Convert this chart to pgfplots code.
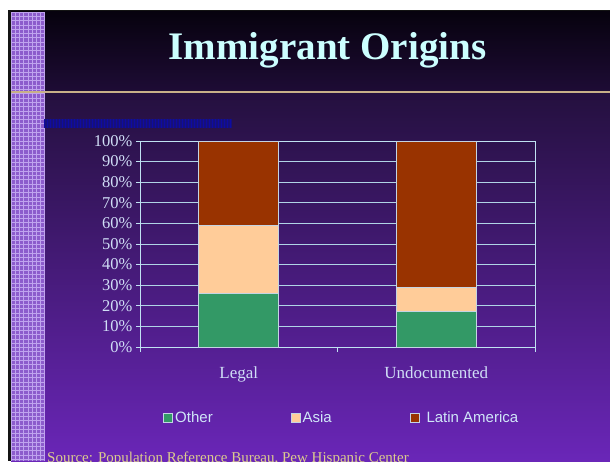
\documentclass[border=0pt]{standalone}
\usepackage{fontspec}
\setmainfont{Liberation Serif}
\newfontfamily\legendfont{Liberation Sans}
\usepackage{pgfplots}
\pgfplotsset{compat=1.18}
\definecolor{bgA}{HTML}{07020E}
\definecolor{bgB}{HTML}{1E0C36}
\definecolor{bgC}{HTML}{24103E}
\definecolor{bgD}{HTML}{6A26B8}
\definecolor{strip}{HTML}{8C5CCC}
\definecolor{stripline}{HTML}{BFA3EE}
\definecolor{rule}{HTML}{C8B088}
\definecolor{navyrect}{HTML}{16107A}
\definecolor{titlecol}{HTML}{CCFFFF}
\definecolor{tickcol}{HTML}{D0DEF6}
\definecolor{gridcol}{HTML}{B0D4E6}
\definecolor{axiscol}{HTML}{C0E2F2}
\definecolor{legtext}{HTML}{D0E6F8}
\definecolor{srccol}{HTML}{DCCB8E}
\definecolor{cOther}{HTML}{339966}
\definecolor{cAsia}{HTML}{FFCC99}
\definecolor{cLatin}{HTML}{993300}
\definecolor{edgecol}{HTML}{C4D4E4}

\pgfplotstableread{
x other asia latin
0 26 33 41
1 17 12 71
}\datatable

\begin{document}
\begin{tikzpicture}
\useasboundingbox (0pt,0pt) rectangle (610pt,461pt);
\clip (0pt,0pt) rectangle (610pt,461pt);
\begin{scope}[x=1pt,y=1pt]
\fill[white] (0,0) rectangle (610,461);
\fill[black!92] (8,0) rectangle (610,451);
\shade[top color=bgA, bottom color=bgB] (11,369) rectangle (610,449);
\shade[top color=bgC, bottom color=bgD] (11,0) rectangle (610,369);
\fill[strip] (11,0) rectangle (44,449);
\foreach \i in {0,...,8} {\draw[stripline, line width=0.6] ({11+4.2*\i},0) -- ({11+4.2*\i},449);}
\foreach \j in {0,...,106} {\draw[stripline, line width=0.6] (11,{449-4.3*\j}) -- (44,{449-4.3*\j});}
\draw[rule, line width=1.3] (11,369) -- (610,369);
\fill[navyrect] (44,333) rectangle (232,342);
\foreach \i in {0,...,62} {\draw[navyrect!70!blue, line width=0.3] ({44+3*\i},333) -- ({44+3*\i},342);}
\node[anchor=base, text=titlecol, font=\fontsize{39}{44}\selectfont\bfseries] at (327.5,401) {Immigrant Origins};
\node[anchor=base west, text=srccol, font=\fontsize{15}{17}\selectfont, inner sep=0pt] at (47,-1.8) {Source: Population Reference Bureau, Pew Hispanic Center};
\end{scope}

\begin{axis}[
  at={(140pt,114pt)}, anchor=south west,
  scale only axis, width=395pt, height=206pt,
  ybar stacked, bar width=80pt,
  xmin=-0.5, xmax=1.5, ymin=0, ymax=100,
  xtick={0,1}, xticklabels={Legal,Undocumented},
  xtick pos=bottom, ytick pos=left,
  major x tick style={draw=none},
  extra x ticks={-0.5,0.5,1.5}, extra x tick labels={},
  extra x tick style={xtick pos=bottom, tick align=outside, major tick length=5pt, major x tick style={draw=axiscol, line width=1pt}, xmajorgrids=false},
  xticklabel style={yshift=-12pt, text=tickcol, font=\fontsize{17}{19}\selectfont},
  ytick={0,10,...,100},
  yticklabel={\pgfmathprintnumber{\tick}\%},
  yticklabel style={text=tickcol, font=\fontsize{16.5}{18}\selectfont},
  /pgf/number format/assume math mode=true,
  ymajorgrids, grid style={gridcol, line width=1pt},
  y tick style={axiscol, line width=1pt},
  tick align=outside, major tick length=4pt,
  axis line style={axiscol, line width=1pt},
  legend columns=3,
  legend style={at={(0.511,-0.345)}, anchor=center, draw=none, fill=none,
    text=legtext, font=\legendfont\fontsize{15}{17}\selectfont,
    /tikz/every even column/.append style={column sep=76pt}},
  legend image code/.code={\draw[#1, draw=edgecol, line width=0.8pt] (0pt,-4.5pt) rectangle (9pt,4.5pt);},
]
\addplot[fill=cOther, draw=edgecol, line width=1pt] table[x=x, y=other] {\datatable};
\addplot[fill=cAsia, draw=edgecol, line width=1pt] table[x=x, y=asia] {\datatable};
\addplot[fill=cLatin, draw=edgecol, line width=1pt] table[x=x, y=latin] {\datatable};
\legend{Other,Asia,\hspace{5pt}Latin America}
\end{axis}
\end{tikzpicture}
\end{document}
